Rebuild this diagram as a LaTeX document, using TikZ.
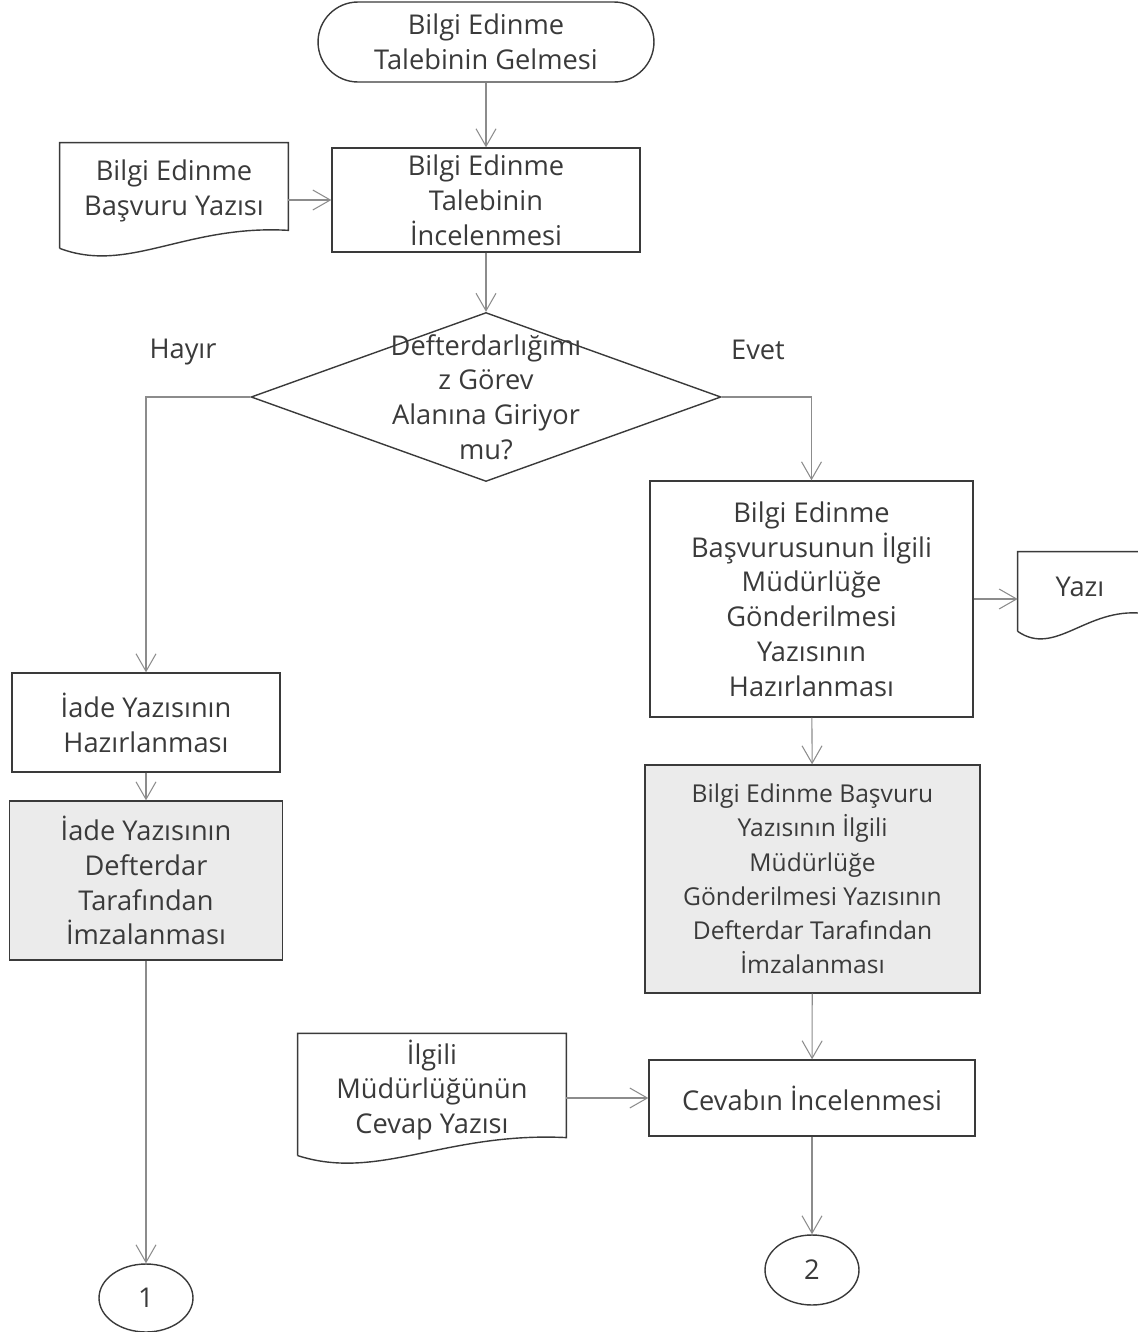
\documentclass[tikz,border=0pt]{standalone}
\usepackage{fontspec}
\setmainfont{Open Sans}
\usetikzlibrary{shapes.geometric,arrows.meta,calc}
\definecolor{inkgray}{HTML}{3A3A3A}
\definecolor{linegray}{HTML}{8C8C8C}
\definecolor{boxgray}{HTML}{EBEBEB}
\tikzset{flow text/.style={
    text=inkgray, align=center, inner sep=0pt,
    font=\fontsize{15.5}{19.8}\selectfont,
  },
  flow box/.style={flow text, shape=rectangle, draw=inkgray, line width=0.8pt},
  flow doc/.style={flow text, shape=rectangle},
  flow link/.style={draw=linegray, line width=0.6pt,
    -{Straight Barb[length=3.5mm,width=4mm]}},
}

\begin{document}
\begin{tikzpicture}[x=0.02cm, y=-0.02cm]
\useasboundingbox (0,0) rectangle (1137,1332);
\node[name=start, flow box, minimum width=6.72cm, minimum height=1.6cm, rounded corners=0.8cm]
  at (486,42) {Bilgi Edinme\\Talebinin Gelmesi};
\node[name=inc, flow box, minimum width=6.16cm, minimum height=2.08cm]
  at (486,200) {Bilgi Edinme\\Talebinin\\İncelenmesi};
\node[name=basvuru, flow doc, minimum width=4.56cm, minimum height=1.92cm]
  at (174,191) {Bilgi Edinme\\Başvuru Yazısı};
\node[name=karar, shape=diamond, draw=inkgray, line width=0.8pt, inner sep=0pt,
  minimum width=9.4cm, minimum height=3.38cm,
  label={[flow text]center:Defterdarlığımı\\z Görev\\Alanına Giriyor\\mu?}]
  at (486,397) {};
\node[name=hayir, flow text] at (183,352) {Hayır};
\node[name=evet, flow text] at (758,350) {Evet};
\node[name=hazir, flow box, minimum width=6.46cm, minimum height=4.72cm]
  at (811.5,599) {Bilgi Edinme\\Başvurusunun İlgili\\Müdürlüğe\\Gönderilmesi\\Yazısının\\Hazırlanması};
\node[name=yazi, flow doc, minimum width=2.48cm, minimum height=1.4cm]
  at (1080,587) {Yazı};
\node[name=iade1, flow box, minimum width=5.36cm, minimum height=1.98cm]
  at (146,722.5) {İade Yazısının\\Hazırlanması};
\node[name=iade2, flow box, fill=boxgray, minimum width=5.46cm, minimum height=3.18cm]
  at (146,880.5) {İade Yazısının\\Defterdar\\Tarafından\\İmzalanması};
\node[name=imza, flow box, fill=boxgray, minimum width=6.7cm, minimum height=4.56cm,
  font=\fontsize{14}{19.5}\selectfont]
  at (812.5,879) {Bilgi Edinme Başvuru\\Yazısının İlgili\\Müdürlüğe\\Gönderilmesi Yazısının\\Defterdar Tarafından\\İmzalanması};
\node[name=cevap, flow box, minimum width=6.52cm, minimum height=1.52cm]
  at (812,1098) {Cevabın İncelenmesi};
\node[name=ilgili, flow doc, minimum width=5.36cm, minimum height=2.25cm]
  at (432,1090) {İlgili\\Müdürlüğünün\\Cevap Yazısı};
\node[name=c1, flow box, shape=ellipse, minimum width=1.88cm, minimum height=1.36cm]
  at (146,1298) {1};
\node[name=c2, flow box, shape=ellipse, minimum width=1.88cm, minimum height=1.4cm]
  at (812,1270) {2};

\foreach \d in {basvuru, yazi, ilgili}
  \draw[draw=inkgray, line width=0.8pt] ([yshift=-0.18cm]\d.south west) -- (\d.north west)
    -- (\d.north east) -- ([yshift=0.18cm]\d.south east)
    .. controls ($(\d.south west)!0.55!(\d.south east)+(0pt,0.3cm)$)
    and ($(\d.south west)!0.3!(\d.south east)+(0pt,-0.7cm)$) .. ([yshift=-0.18cm]\d.south west);

\draw[flow link] (start) -- (inc);
\draw[flow link] (basvuru.east |- inc) -- (inc);
\draw[flow link] (inc) -- (karar);
\draw[flow link] (karar.west) -| (iade1.north);
\draw[flow link] (karar.east) -| (hazir.north);
\draw[flow link] (hazir.east) -- (hazir.east -| yazi.west);
\draw[flow link] (iade1) -- (iade2);
\draw[flow link] (iade2) -- (c1);
\draw[flow link] (hazir) -- (imza);
\draw[flow link] (imza) -- (cevap);
\draw[flow link] (ilgili.east |- cevap) -- (cevap);
\draw[flow link] (cevap) -- (c2);
\end{tikzpicture}
\end{document}
